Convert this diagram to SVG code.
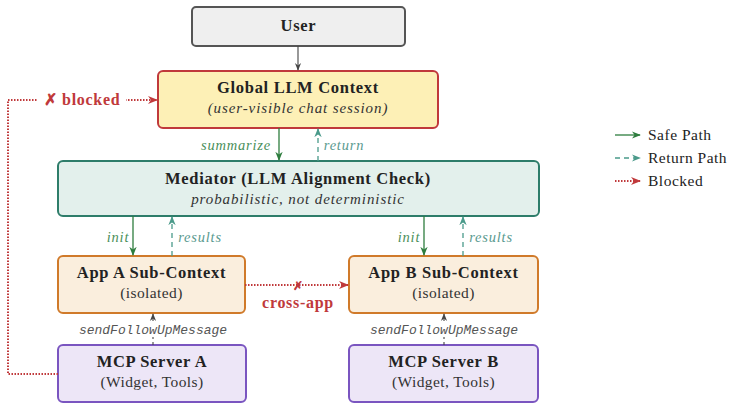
<svg xmlns="http://www.w3.org/2000/svg" width="747" height="409" viewBox="0 0 747 409">
<defs>
<marker id="ag" viewBox="0 0 10 10" refX="9" refY="5" markerWidth="7" markerHeight="7" orient="auto"><path d="M0,1 L10,5 L0,9 L3,5 Z" fill="#2e7d3e"/></marker>
<marker id="at" viewBox="0 0 10 10" refX="9" refY="5" markerWidth="7" markerHeight="7" orient="auto"><path d="M0,1 L10,5 L0,9 L3,5 Z" fill="#4a9a8a"/></marker>
<marker id="ar" viewBox="0 0 10 10" refX="9" refY="5" markerWidth="5" markerHeight="5" orient="auto"><path d="M0,1 L10,5 L0,9 L3,5 Z" fill="#c0393b"/></marker>
<marker id="ak" viewBox="0 0 10 10" refX="9" refY="5" markerWidth="7" markerHeight="7" orient="auto"><path d="M0,1 L10,5 L0,9 L3,5 Z" fill="#444"/></marker>
</defs>
<style>
text{font-family:"Liberation Serif","DejaVu Serif",serif;text-anchor:middle}
.t{font-weight:bold;font-size:16.5px;letter-spacing:0.7px;fill:#222}
.s{font-size:15.5px;letter-spacing:0.4px;fill:#333}
.i{font-style:italic;font-size:15px;letter-spacing:0.9px;fill:#333}
.gl{font-style:italic;font-size:14.5px;letter-spacing:0.8px;fill:#4a8f5a}
.tl{font-style:italic;font-size:14.5px;letter-spacing:0.8px;fill:#5a9a8f}
.m{font-family:"Liberation Mono","DejaVu Sans Mono",monospace;font-style:italic;font-size:13px;fill:#555}
.safe{stroke:#2e7d3e;stroke-width:1.3;fill:none;marker-end:url(#ag)}
.ret{stroke:#4a9a8a;stroke-width:1.3;fill:none;stroke-dasharray:5,4;marker-end:url(#at)}
.blk{stroke:#c0393b;stroke-width:2;fill:none;stroke-dasharray:1.5,1.5;marker-end:url(#ar)}
.plain{stroke:#444;stroke-width:1.1;fill:none;marker-end:url(#ak)}
.r{font-weight:bold;font-size:16px;letter-spacing:0.7px;fill:#c0393b}
.lg{font-size:15.5px;letter-spacing:0.5px;fill:#222;text-anchor:start}
</style>
<g id="user"><rect x="192" y="7" width="213" height="39" rx="4" fill="#efefef" stroke="#555" stroke-width="2"/><text class="t" x="298.5" y="31">User</text></g>
<g id="global"><rect x="158" y="71" width="280" height="57" rx="5" fill="#fdf0b6" stroke="#c0393b" stroke-width="2"/><text class="t" x="298" y="93">Global LLM Context</text><text class="i" x="298" y="113">(user-visible chat session)</text></g>
<g id="mediator"><rect x="58" y="161" width="481" height="55" rx="5" fill="#e3f0ec" stroke="#2e7d6a" stroke-width="2"/><text class="t" x="298" y="184">Mediator (LLM Alignment Check)</text><text class="i" x="298" y="204">probabilistic, not deterministic</text></g>
<g id="appA"><rect x="58" y="256" width="187" height="57" rx="5" fill="#faeedd" stroke="#d07a2a" stroke-width="2"/><text class="t" x="151.5" y="278">App A Sub-Context</text><text class="s" x="151.5" y="298">(isolated)</text></g>
<g id="appB"><rect x="349" y="256" width="189" height="57" rx="5" fill="#faeedd" stroke="#d07a2a" stroke-width="2"/><text class="t" x="443.5" y="278">App B Sub-Context</text><text class="s" x="443.5" y="298">(isolated)</text></g>
<g id="mcpA"><rect x="58" y="345" width="188" height="57" rx="5" fill="#ede6f7" stroke="#7a55c0" stroke-width="2"/><text class="t" x="152" y="367">MCP Server A</text><text class="s" x="152" y="387">(Widget, Tools)</text></g>
<g id="mcpB"><rect x="349" y="345" width="189" height="57" rx="5" fill="#ede6f7" stroke="#7a55c0" stroke-width="2"/><text class="t" x="443.5" y="367">MCP Server B</text><text class="s" x="443.5" y="387">(Widget, Tools)</text></g>
<g id="connectors">
<line class="plain" x1="298" y1="46" x2="298" y2="70"/>
<line class="safe" x1="279" y1="128" x2="279" y2="160"/><text class="gl" x="236" y="150">summarize</text>
<line class="ret" x1="318" y1="161" x2="318" y2="129"/><text class="tl" x="344" y="150">return</text>
<line class="safe" x1="133" y1="216" x2="133" y2="255"/><text class="gl" x="118" y="242">init</text>
<line class="ret" x1="172" y1="256" x2="172" y2="217"/><text class="tl" x="200" y="242">results</text>
<line class="safe" x1="424" y1="216" x2="424" y2="255"/><text class="gl" x="409" y="242">init</text>
<line class="ret" x1="463" y1="256" x2="463" y2="217"/><text class="tl" x="491" y="242">results</text>
<line class="plain" x1="153" y1="345" x2="153" y2="314" stroke-dasharray="3,3"/>
<rect x="72" y="322" width="162" height="15" fill="#fff"/><text class="m" x="153" y="334">sendFollowUpMessage</text>
<line class="plain" x1="444" y1="345" x2="444" y2="314" stroke-dasharray="3,3"/>
<rect x="363" y="322" width="162" height="15" fill="#fff"/><text class="m" x="444" y="334">sendFollowUpMessage</text>
<path class="blk" d="M58,374 H8 V100 H157"/>
<rect x="38" y="91" width="88" height="18" fill="#fff"/><text class="r" x="82" y="105">✗ blocked</text>
<line class="blk" x1="245" y1="285" x2="348" y2="285"/>
<text class="r" x="298" y="290" style="font-size:12px">✗</text>
<text class="r" x="298" y="308">cross-app</text>
</g>
<g id="legend">
<line class="safe" x1="615" y1="135" x2="640" y2="135"/><text class="lg" x="648" y="140">Safe Path</text>
<line class="ret" x1="615" y1="158" x2="640" y2="158"/><text class="lg" x="648" y="163">Return Path</text>
<line class="blk" x1="615" y1="181" x2="640" y2="181"/><text class="lg" x="648" y="186">Blocked</text>
</g>
</svg>
